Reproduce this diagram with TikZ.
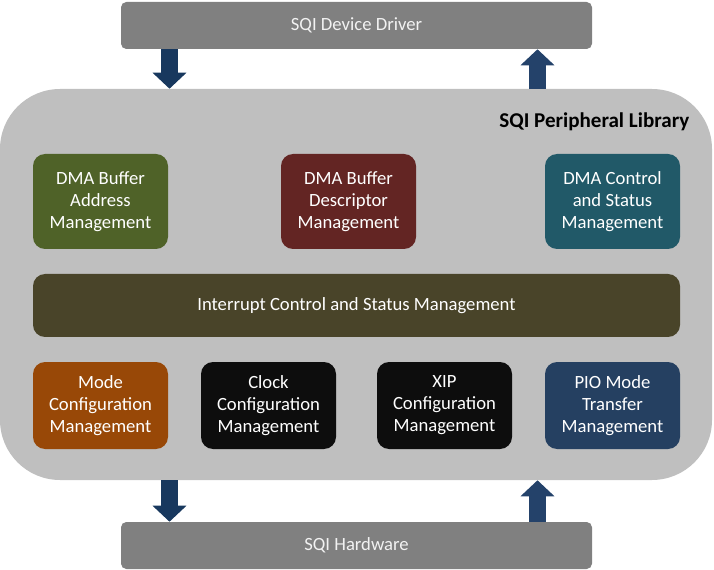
\documentclass[tikz,border=0pt]{standalone}
\usepackage{fontspec}
\setmainfont{Carlito}
\usetikzlibrary{arrows.meta}
\definecolor{libgray}{RGB}{191,191,191}
\definecolor{bargray}{RGB}{128,128,128}
\definecolor{dmagreen}{RGB}{79,98,40}
\definecolor{dmared}{RGB}{99,37,35}
\definecolor{dmateal}{RGB}{33,89,104}
\definecolor{intolive}{RGB}{73,68,41}
\definecolor{modeorange}{RGB}{152,72,7}
\definecolor{cfgblack}{RGB}{13,13,13}
\definecolor{pionavy}{RGB}{37,64,97}
\definecolor{arrowdown}{RGB}{24,56,94}
\definecolor{arrowup}{RGB}{36,66,106}
\tikzset{
  txt/.style={font=\fontsize{14}{16.5}\selectfont},
  bar/.style={txt, fill=bargray, text=white!95!black, rounded corners=4pt,
    minimum width=471*0.75pt, minimum height=47*0.75pt, inner sep=0pt},
  blk/.style={txt, text=white, align=center, rounded corners=9pt,
    minimum width=135*0.75pt, minimum height=95*0.75pt, inner sep=0pt},
  cfg/.style={blk, minimum height=87*0.75pt},
  flow/.style={line width=17*0.75pt, -{Triangle[length=16*0.75pt, width=33*0.75pt]}},
}

\begin{document}
\begin{tikzpicture}[x=0.75pt,y=-0.75pt]
  \useasboundingbox (0,0) rectangle (714,570);

  % library frame
  \node[fill=libgray, rounded corners=45pt, minimum width=712*0.75pt,
    minimum height=391*0.75pt, inner sep=0pt] (lib) at (356,284.5) {};
  \node[font=\fontsize{15.8}{18}\selectfont\bfseries, anchor=east] (title)
    at (694,122) {SQI Peripheral Library};

  % driver and hardware
  \node[bar] (drv) at (356.5,25.5) {SQI Device Driver};
  \node[bar] (hw) at (356.5,545.5) {SQI Hardware};

  % DMA row
  \node[blk, fill=dmagreen] (addr) at (100.5,201.5) {DMA Buffer\\Address\\Management};
  \node[blk, fill=dmared] (desc) at (348.5,201.5) {DMA Buffer\\Descriptor\\Management};
  \node[blk, fill=dmateal] (ctrl) at (612.5,201.5) {DMA Control\\and Status\\Management};

  % interrupt bar
  \node[blk, fill=intolive, minimum width=647*0.75pt, minimum height=63*0.75pt] (irq)
    at (356.5,305.5) {Interrupt Control and Status Management};

  % configuration row
  \node[cfg, fill=modeorange] (mode) at (100.5,405.5) {Mode\\Configuration\\Management};
  \node[cfg, fill=cfgblack] (clk) at (268.5,405.5) {Clock\\Configuration\\Management};
  \node[cfg, fill=cfgblack] (xip) at (444.5,405.5) {XIP\\Configuration\\Management};
  \node[cfg, fill=pionavy] (pio) at (612.5,405.5) {PIO Mode\\Transfer\\Management};

  % arrows
  \coordinate (xl) at (169.5,0);
  \coordinate (xr) at (537.5,0);
  \draw[flow, arrowdown] (drv.south -| xl) -- (lib.north -| xl);
  \draw[flow, arrowup] (lib.north -| xr) -- (drv.south -| xr);
  \draw[flow, arrowdown] (lib.south -| xl) -- (hw.north -| xl);
  \draw[flow, arrowup] (hw.north -| xr) -- (lib.south -| xr);

\end{tikzpicture}
\end{document}
